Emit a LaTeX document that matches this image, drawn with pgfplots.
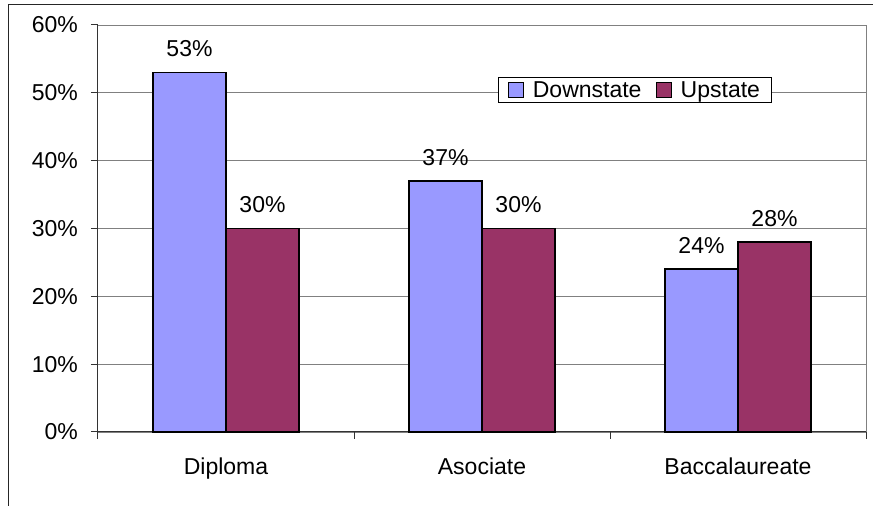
\documentclass[border=0pt]{standalone}
\usepackage{fontspec}
\setmainfont{Liberation Sans}
\usepackage{pgfplots}
\pgfplotsset{compat=1.18}
\definecolor{down}{HTML}{9999FF}
\definecolor{up}{HTML}{993366}
\begin{document}
\begin{tikzpicture}[font=\fontsize{23}{27}\selectfont]
\useasboundingbox (0pt,0pt) rectangle (873pt,506pt);
\draw[black!85, line width=1pt] (8pt,-5pt) -- (8pt,501pt) -- (880pt,501pt);
\begin{axis}[
    at={(98pt,74pt)}, anchor=south west,
    scale only axis, width=768pt, height=407pt,
    xmin=0.5, xmax=3.5, ymin=0, ymax=60,
    ybar=0pt, bar width=73pt,
    axis x line*=bottom, axis y line*=left,
    axis line style={black!80, line width=1pt},
    tick align=outside, major tick length=7pt,
    tick style={black!80, line width=1pt},
    ytick={0,10,20,30,40,50,60},
    yticklabels={0\%,10\%,20\%,30\%,40\%,50\%,60\%},
    yticklabel style={inner sep=0pt, anchor=east, xshift=-13pt},
    ymajorgrids, grid style={gray, line width=0.8pt},
    xtick={0.5,1.5,2.5,3.5}, xticklabels={},
    extra x ticks={1,2,3},
    extra x tick labels={Diploma,Asociate,Baccalaureate},
    extra x tick style={major tick length=0pt},
    xticklabel style={inner sep=0pt, anchor=base, yshift=-43pt},
    clip=false,
    nodes near coords={\pgfmathprintnumber[assume math mode=true]{\pgfplotspointmeta}\%},
    every node near coord/.append style={anchor=base, inner sep=0pt, yshift=16pt, black},
    legend columns=2,
    legend style={at={(0.699,0.84)}, anchor=center, draw=black, fill=white,
        line width=1pt, inner xsep=9pt, inner ysep=2pt,
        /tikz/every odd column/.append style={column sep=7pt},
        /tikz/every even column/.append style={column sep=12pt}},
    legend image code/.code={\draw[#1, draw=black, line width=1.2pt] (0pt,-7.5pt) rectangle (15pt,7.5pt);},
]
\addplot[fill=down, draw=black, line width=1.5pt] coordinates {(1,53) (2,37) (3,24)};
\addplot[fill=up, draw=black, line width=1.5pt] coordinates {(1,30) (2,30) (3,28)};
\legend{Downstate,Upstate}
\draw[gray, line width=0.8pt] (rel axis cs:0,1) -| (rel axis cs:1,0);
\end{axis}
\end{tikzpicture}
\end{document}
